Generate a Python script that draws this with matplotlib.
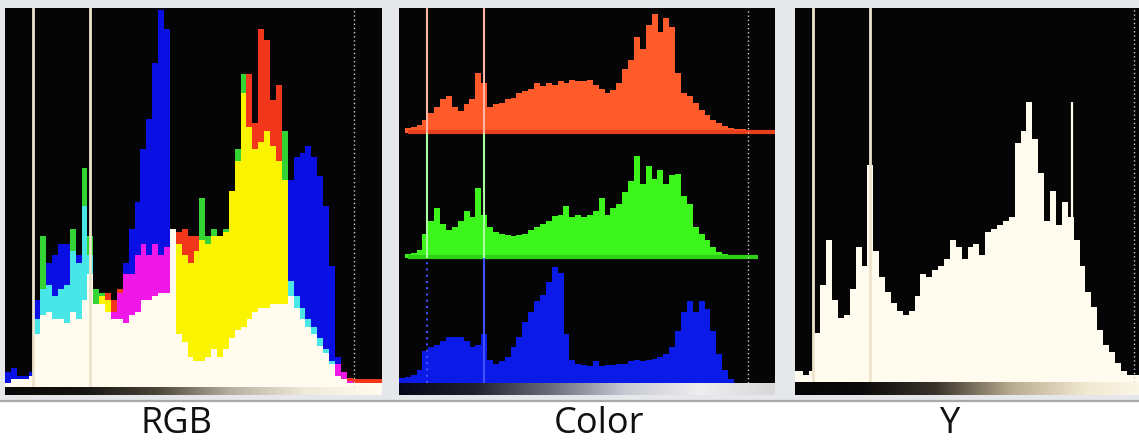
import numpy as np
import matplotlib
matplotlib.use("Agg")
import matplotlib.pyplot as plt
from matplotlib.colors import LinearSegmentedColormap
from matplotlib.patches import Rectangle
from matplotlib.lines import Line2D

# ---------------- data (64 bins per histogram, heights in % of panel) ----------------
rgb_red = [1, 2, 2, 2, 3, 14, 19, 20, 18, 18, 17, 20, 18, 23, 30, 22, 24, 25, 23, 26,
           30, 30, 35, 38, 35, 38, 35, 37, 42, 41, 42, 40, 40, 39, 38, 40, 40, 41, 52, 60,
           78, 83, 70, 95, 92, 76, 80, 55, 24, 21, 18, 16, 14, 11, 9, 6, 6, 4, 2.5, 2,
           2, 2, 2, 2]
rgb_green = [1, 2, 2, 2, 3, 18, 40, 27, 24, 26, 27, 42, 33, 58, 40, 26, 25, 23, 18, 18,
             17, 19, 20, 23, 23, 24, 25, 25, 42, 38, 35, 33, 36, 50, 40, 42, 40, 42, 52, 63,
             83, 69, 63, 65, 68, 64, 60, 68, 28, 24, 21, 18, 16, 13, 10, 7, 3, 2, 1, 1,
             1, 1, 1, 1]
rgb_blue = [4, 5, 3, 3, 4, 23, 26, 33, 35, 38, 38, 36, 35, 48, 35, 22, 22, 20, 20, 25,
            33, 42, 49, 63, 71, 86, 100, 95, 42, 14, 12, 8, 7, 7, 8, 10, 8, 10, 13, 15,
            16, 18, 20, 21, 21, 22, 22, 22, 55, 61, 62, 64, 61, 56, 48, 32, 8, 4, 1.5, 1,
            1, 1, 1, 1]

color_red = [0, 4, 5, 7, 11, 17, 22, 28, 31, 22, 18, 24, 28, 50, 42, 22, 24, 25, 28, 29,
             33, 35, 37, 42, 39, 42, 40, 43, 42, 44, 43, 43, 44, 40, 37, 33, 36, 42, 53, 61,
             80, 70, 90, 99, 84, 96, 88, 50, 33, 31, 25, 19, 15, 11, 8, 5.5, 4, 3, 3, 2,
             2, 2, 2, 2]
color_green = [0, 3, 4, 7, 20, 31, 42, 28, 23, 26, 31, 39, 34, 58, 36, 26, 22, 20, 19, 18,
               19, 20, 23, 26, 28, 31, 35, 36, 43, 34, 36, 34, 36, 39, 50, 36, 42, 45, 55, 64,
               85, 62, 77, 66, 73, 62, 69, 70, 52, 45, 26, 20, 15, 9, 5, 3.5, 2.5, 2, 1.5, 1.5,
               1.5, 0, 0, 0]
color_blue = [4, 5, 7, 11, 27, 30, 32, 35, 38, 38, 38, 35, 30, 32, 41, 19, 16, 18, 22, 30,
              38, 51, 59, 68, 73, 84, 97, 92, 41, 19, 16, 15, 14, 18, 14, 15, 15, 16, 16, 18,
              19, 18, 19, 20, 22, 24, 30, 43, 59, 68, 59, 68, 62, 43, 24, 11, 3, 0, 0, 0,
              0, 0, 0, 0]

luma = [2, 3, 3, 2, 3, 13, 26, 38, 22, 17, 18, 25, 36, 31, 58, 35, 28, 24, 21, 19,
        18, 19, 23, 29, 28, 30, 31, 33, 38, 36, 33, 36, 37, 34, 40, 41, 42, 43, 44, 64,
        67, 75, 65, 56, 43, 51, 42, 48, 44, 38, 31, 24, 20, 14, 10, 8, 5, 3, 2, 2,
        2, 2, 2, 2]
luma_spike_pos = [0.760]
luma_spike_height = [75]

marker_positions = [0.075, 0.226]
clip_position = 0.925
panel_labels = ["RGB", "Color", "Y"]

# ---------------- layout helpers ----------------
W, H = 1139, 441
fig = plt.figure(figsize=(W / 100, H / 100), dpi=100)
fig.patch.set_facecolor("white")
fig.add_artist(Rectangle((0, 1 - 400 / H), 1, 400 / H, transform=fig.transFigure,
                         facecolor="#e6e7ea", edgecolor="none", zorder=0))
fig.add_artist(Line2D([0, 1], [1 - 400.5 / H] * 2, transform=fig.transFigure,
                      color="#a9a9a9", lw=1.6, zorder=1))


def rect(x0, y0, x1, y1):
    return [x0 / W, 1 - y1 / H, (x1 - x0) / W, (y1 - y0) / H]


def clean(ax, bg="#050505"):
    ax.set_facecolor(bg)
    ax.set_xticks([])
    ax.set_yticks([])
    for s in ax.spines.values():
        s.set_visible(False)


n = len(rgb_red)
xc = (np.arange(n) + 0.5) / n
bw = 1.0 / n

cream = "#fffcef"
marker_col = "#ece4cc"


def gradient_bar(rect_px, stops, xlim=(0, 1)):
    bax = fig.add_axes(rect(*rect_px))
    clean(bax)
    cmap = LinearSegmentedColormap.from_list("g", stops)
    bax.imshow(np.linspace(0, 1, 256)[None, :], aspect="auto", cmap=cmap,
               extent=(0, 1, 0, 1), interpolation="bilinear")
    bax.set_xlim(*xlim)
    bax.set_ylim(0, 1)
    return bax


# ---------------- Panel 1 : RGB composite ----------------
ax1 = fig.add_axes(rect(5, 8, 382, 387))
clean(ax1)
combo = {
    frozenset("rgb"): cream,
    frozenset("rg"): "#faf400",
    frozenset("gb"): "#48e6e6",
    frozenset("rb"): "#f018e6",
    frozenset("r"): "#f2361c",
    frozenset("g"): "#34d434",
    frozenset("b"): "#0a10e4",
}
layers = [([], [], []) for _ in range(3)]
for i in range(n):
    vals = {"r": rgb_red[i], "g": rgb_green[i], "b": rgb_blue[i]}
    order = sorted(vals, key=vals.get)
    lv = [0, vals[order[0]], vals[order[1]], vals[order[2]]]
    for k in range(3):
        layers[k][0].append(lv[k])
        layers[k][1].append(lv[k + 1] - lv[k])
        layers[k][2].append(combo[frozenset(order[k:])])
for bottoms, heights, cols in layers:
    ax1.bar(xc, heights, bottom=bottoms, width=bw * 1.01, color=cols, linewidth=0)
for m in marker_positions:
    ax1.axvline(m, color=marker_col, lw=2.0)
ax1.axvline(clip_position, color="#cfcfcf", lw=1.0, ls=(0, (1, 2)))
ax1.set_xlim(0, 1)
ax1.set_ylim(0, 100.5)
gradient_bar((5, 387, 382, 395),
             ["#080808", "#141310", "#4a4438", "#b8b0a0", "#f0ead8", "#fffbee"])

# ---------------- Panel 2 : Color (three stacked bands) ----------------
ax2 = fig.add_axes(rect(399, 8, 775, 383))
clean(ax2)
bands = [(color_red, 2, "#ff5a2a", "#e8401c", 0.024, 1.0, "#ffb6a6"),
         (color_green, 1, "#3cf51a", "#30d018", 0.024, 0.956, "#aaffa0"),
         (color_blue, 0, "#0c1ae8", "#0c1ae8", 0.0, 0.89, "#4050ff")]
for vals, base, fc, lc, x0, x1, mc in bands:
    hv = np.array(vals) / 100 * 0.96
    ax2.bar(xc, hv, bottom=base, width=bw * 1.01, color=fc, linewidth=0)
    if base > 0:
        ax2.hlines(base + 0.012, x0, x1, color=lc, lw=3)
    for j, m in enumerate(marker_positions):
        ls = (0, (1, 2)) if (base == 0 and j == 0) else "-"
        ax2.vlines(m, base, base + 1, color=mc, lw=1.5, linestyles=[ls])
ax2.axvline(0.929, color="#d0d0d0", lw=1.0, ls=(0, (1, 2)))
ax2.set_xlim(0, 1)
ax2.set_ylim(0, 3)
gradient_bar((399, 383, 775, 395),
             ["#06061a", "#20202e", "#6a6a7a", "#c8c8d2", "#eeeeef", "#d8d8d8"])

# ---------------- Panel 3 : Y (luma) ----------------
shift = 10 / 377
ax3 = fig.add_axes(rect(795, 8, 1172, 382))
clean(ax3)
ax3.bar(xc, luma, width=bw * 1.01, color=cream, linewidth=0)
ax3.vlines(luma_spike_pos, 0, luma_spike_height, color=cream, lw=1.6)
for m in marker_positions:
    ax3.axvline(m, color=marker_col, lw=2.0)
ax3.axvline(clip_position, color="#cfcfcf", lw=1.0, ls=(0, (1, 2)))
ax3.set_xlim(shift, 1 + shift)
ax3.set_ylim(0, 100)
gradient_bar((795, 382, 1172, 395),
             ["#050505", "#0a0a0a", "#3a342c", "#b8ac90", "#f2e9d2", "#fffbee"],
             xlim=(shift, 1 + shift))

# ---------------- labels ----------------
label_x = [177, 599, 950]
for lab, x in zip(panel_labels, label_x):
    fig.text(x / W, 1 - 433 / H, lab, ha="center", va="baseline", fontsize=26,
             family=["Open Sans", "DejaVu Sans"], color="#111111")

fig.savefig("out.png", dpi=100)
